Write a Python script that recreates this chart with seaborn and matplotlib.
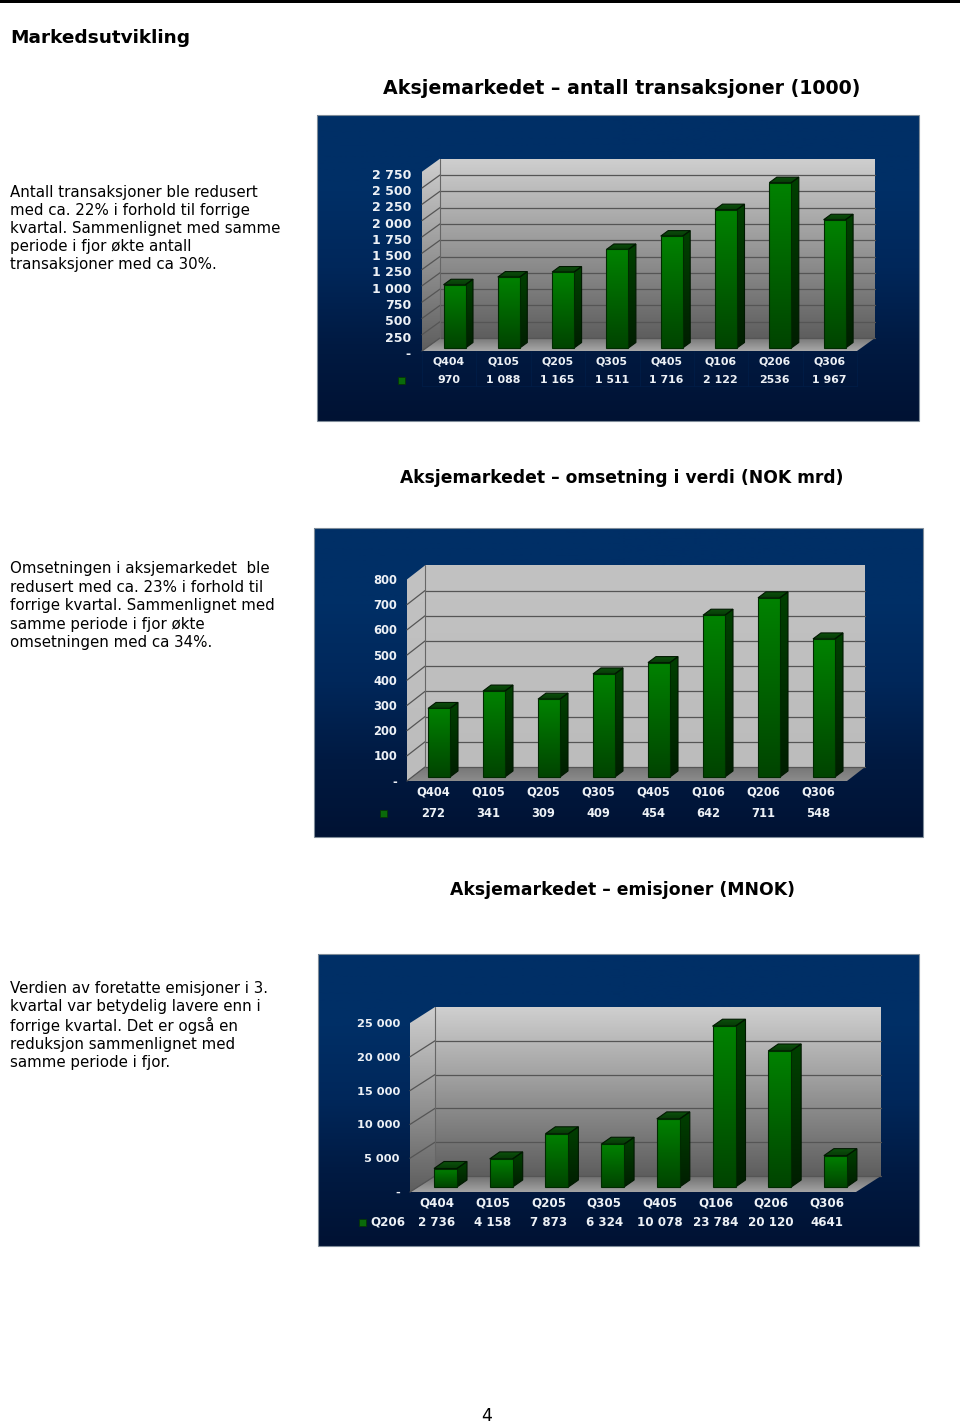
import numpy as np
import pandas as pd
import seaborn as sns
import matplotlib.pyplot as plt
from matplotlib.colors import LinearSegmentedColormap
from matplotlib.patches import Polygon, Rectangle

quarters = ['Q404', 'Q105', 'Q205', 'Q305', 'Q405', 'Q106', 'Q206', 'Q306']

trans_values = [970, 1088, 1165, 1511, 1716, 2122, 2536, 1967]
trans_labels = ['970', '1 088', '1 165', '1 511', '1 716', '2 122', '2536', '1 967']
trans_ticks = [0, 250, 500, 750, 1000, 1250, 1500, 1750, 2000, 2250, 2500, 2750]

verdi_values = [272, 341, 309, 409, 454, 642, 711, 548]
verdi_labels = ['272', '341', '309', '409', '454', '642', '711', '548']
verdi_ticks = [0, 100, 200, 300, 400, 500, 600, 700, 800]

emis_values = [2736, 4158, 7873, 6324, 10078, 23784, 20120, 4641]
emis_labels = ['2 736', '4 158', '7 873', '6 324', '10 078', '23 784', '20 120', '4641']
emis_ticks = [0, 5000, 10000, 15000, 20000, 25000]

trans_text = ['Antall transaksjoner ble redusert', 'med ca. 22% i forhold til forrige',
              'kvartal. Sammenlignet med samme', 'periode i fjor økte antall',
              'transaksjoner med ca 30%.']
verdi_text = ['Omsetningen i aksjemarkedet  ble', 'redusert med ca. 23% i forhold til',
              'forrige kvartal. Sammenlignet med', 'samme periode i fjor økte',
              'omsetningen med ca 34%.']
emis_text = ['Verdien av foretatte emisjoner i 3.', 'kvartal var betydelig lavere enn i',
             'forrige kvartal. Det er også en', 'reduksjon sammenlignet med',
             'samme periode i fjor.']

W, H = 960, 1426

sns.set_theme(style='white')
plt.rcParams['font.family'] = ['DejaVu Sans']

fig = plt.figure(figsize=(W / 100, H / 100), dpi=100, facecolor='white')


def ramp(ax, verts, top, bottom, z, edge=None):
    # polygon filled with a vertical gradient
    verts = np.array(verts)
    cmap = LinearSegmentedColormap.from_list('r', [top, bottom])
    grad = np.linspace(0, 1, 128).reshape(-1, 1)
    im = ax.imshow(grad, cmap=cmap, aspect='auto', zorder=z, origin='upper',
                   extent=[verts[:, 0].min(), verts[:, 0].max(),
                           verts[:, 1].min(), verts[:, 1].max()])
    poly = Polygon(verts, closed=True, fc='none', ec=edge or 'none', lw=0.8, zorder=z + 0.1)
    ax.add_patch(poly)
    im.set_clip_path(poly)


def panel(box, front_l, front_r, back_off, floor, top_px, base_px, c0, step, bar_w,
          bar_off, per_px, values, labels, ticks, tick_right, tick_off, rows, label_shift,
          sizes, marker_x, wall, floor_col, legend=None, table=False):
    left, right, top, bottom = box
    ax = fig.add_axes([left / W, 1 - bottom / H, (right - left) / W, (bottom - top) / H])

    df = pd.DataFrame({'quarter': quarters, 'value': values})
    sns.barplot(data=df, x='quarter', y='value', color='#006600', width=bar_w / step,
                saturation=1, ax=ax, zorder=6)
    bars = list(ax.patches)

    ux = 1 / step        # categories per pixel
    uy = per_px          # value per pixel

    # figure background
    bg = LinearSegmentedColormap.from_list('bg', ['#002f66', '#002f66', '#00275a', '#001a42', '#001233'])
    ax.imshow(np.linspace(0, 1, 256).reshape(-1, 1), cmap=bg, aspect='auto', origin='upper',
              extent=[0, 1, 0, 1], transform=ax.transAxes, zorder=0)
    ax.set_xlim((left - c0) * ux, (right - c0) * ux)
    ax.set_ylim((base_px - bottom) * uy, (base_px - top) * uy)

    xl = (front_l - c0) * ux
    xr = (front_r - c0) * ux
    dx = back_off[0] * ux
    yf = (base_px - floor[0]) * uy
    yb = (base_px - floor[1]) * uy
    ymax = ticks[-1]

    # walls and floor
    ramp(ax, [(xl, yf), (xl + dx, yb), (xl + dx, yb + ymax), (xl, yf + ymax)], wall[0], wall[1], 1)
    ramp(ax, [(xl + dx, yb), (xr + dx, yb), (xr + dx, yb + ymax), (xl + dx, yb + ymax)], wall[0], wall[1], 1)
    ramp(ax, [(xl, yf), (xr, yf), (xr + dx, yb), (xl + dx, yb)], floor_col[0], floor_col[1], 1.5)

    for t in ticks[:-1]:
        ax.plot([xl + dx, xr + dx], [yb + t, yb + t], color='#555555', lw=0.9, zorder=2)
        ax.plot([xl, xl + dx], [yf + t, yb + t], color='#555555', lw=0.9, zorder=2)
    ax.plot([xl + dx, xl + dx], [yb, yb + ymax], color='#666666', lw=0.8, zorder=2)

    # 3d bars on top of the seaborn front faces
    ddx = bar_off[0] * ux
    ddy = bar_off[1] * uy
    for bar in bars:
        x0 = bar.get_x()
        x1 = x0 + bar.get_width()
        h = bar.get_height()
        ramp(ax, [(x1, 0), (x1 + ddx, ddy), (x1 + ddx, h + ddy), (x1, h)], '#004000', '#001e00', 4, '#001800')
        ramp(ax, [(x0, h), (x1, h), (x1 + ddx, h + ddy), (x0 + ddx, h + ddy)], '#0c500c', '#063a06', 4, '#001800')
        ramp(ax, [(x0, 0), (x1, 0), (x1, h), (x0, h)], '#008200', '#004400', 5, '#002a00')
        bar.set_visible(False)

    # axis labels
    for t in ticks:
        txt = '-' if t == 0 else f'{t:,}'.replace(',', ' ')
        ax.text((tick_right - c0) * ux, yf + t - tick_off * uy, txt, ha='right', va='center',
                color='#edf1f6', fontsize=sizes[0], fontweight='bold', zorder=7)

    # data table under the chart
    for i, (q, lab) in enumerate(zip(quarters, labels)):
        x = i + label_shift * ux
        ax.text(x, (base_px - rows[0]) * uy, q, ha='center', va='center', color='#edf1f6',
                fontsize=sizes[1], fontweight='bold', zorder=7)
        ax.text(x, (base_px - rows[1]) * uy, lab, ha='center', va='center', color='#edf1f6',
                fontsize=sizes[1], fontweight='bold', zorder=7)

    if table:
        y_lo = (base_px - rows[1] - 6) * uy
        for i in range(len(quarters) + 1):
            xg = xl + i * (xr - xl) / len(quarters)
            ax.plot([xg, xg], [yf, y_lo], color='#011d47', lw=0.6, zorder=3)
        ax.plot([xl, xr], [y_lo, y_lo], color='#011d47', lw=0.6, zorder=3)

    ax.add_patch(Rectangle(((marker_x - 3.5 - c0) * ux, (base_px - rows[1] - 3.5) * uy), 7 * ux, 7 * uy,
                           fc='#0a6a0a', ec='#063506', lw=0.6, zorder=7))
    if legend:
        ax.text((marker_x + 26 - c0) * ux, (base_px - rows[1]) * uy, legend, ha='center', va='center',
                color='#edf1f6', fontsize=sizes[1], fontweight='bold', zorder=7)

    ax.set_xlabel('')
    ax.set_ylabel('')
    ax.axis('off')
    # thin frame round the picture
    fig.add_artist(Rectangle((left / W, 1 - bottom / H), (right - left) / W, (bottom - top) / H,
                             transform=fig.transFigure, fc='none', ec='#7f8c99', lw=0.8))
    return ax


grad_wall = ('#cfcfcf', '#5e5e5e')

panel((317, 919, 115, 421), 422, 857, (18, 13), (351, 338), 160, 348, 454.5, 54.3, 22, (7.5, 5.5),
      250 / 16.3, trans_values, trans_labels, trans_ticks, 411, 3.5, (362, 380), -5.5, (9, 7.9),
      401, grad_wall, ('#787878', '#a8a8a8'), table=True)

panel((314, 923, 528, 837), 407, 847, (18, 14), (781, 767), 565, 777, 439, 55, 22, (8, 6),
      100 / 25.2, verdi_values, verdi_labels, verdi_ticks, 397, 1.0, (792, 813), -6, (8.3, 8.3),
      383, ('#c2c2c2', '#bcbcbc'), ('#767676', '#8c8c8c'))

panel((318, 919, 954, 1246), 410, 856, (25, 16), (1192, 1176), 1007, 1187, 445.5, 55.7, 23, (10, 7),
      5000 / 33.8, emis_values, emis_labels, emis_ticks, 400, 1.0, (1203, 1222), -8.5, (8.2, 8.6),
      362, grad_wall, ('#707070', '#a4a4a4'), legend='Q206')


def put(x, y, s, **kw):
    fig.text(x / W, 1 - y / H, s, va='center', color='black', **kw)


fig.add_artist(Rectangle((0, 1 - 2.5 / H), 1, 2.5 / H, transform=fig.transFigure, fc='black', ec='none'))

put(10, 38, 'Markedsutvikling', fontsize=13.3, fontweight='bold')
put(622, 89, 'Aksjemarkedet – antall transaksjoner (1000)', fontsize=13.7, fontweight='bold', ha='center')
put(622, 478, 'Aksjemarkedet – omsetning i verdi (NOK mrd)', fontsize=12.3, fontweight='bold', ha='center')
put(622, 890, 'Aksjemarkedet – emisjoner (MNOK)', fontsize=12.4, fontweight='bold', ha='center')

for lines, ys in [(trans_text, [192, 210, 228, 247, 265]),
                  (verdi_text, [569, 587, 605, 624, 642]),
                  (emis_text, [989, 1007, 1025, 1044, 1062])]:
    for s, y in zip(lines, ys):
        put(10, y, s, fontsize=10.85)

put(487, 1416, '4', fontsize=12.5, ha='center')

fig.savefig('out.png', dpi=100, facecolor='white')
